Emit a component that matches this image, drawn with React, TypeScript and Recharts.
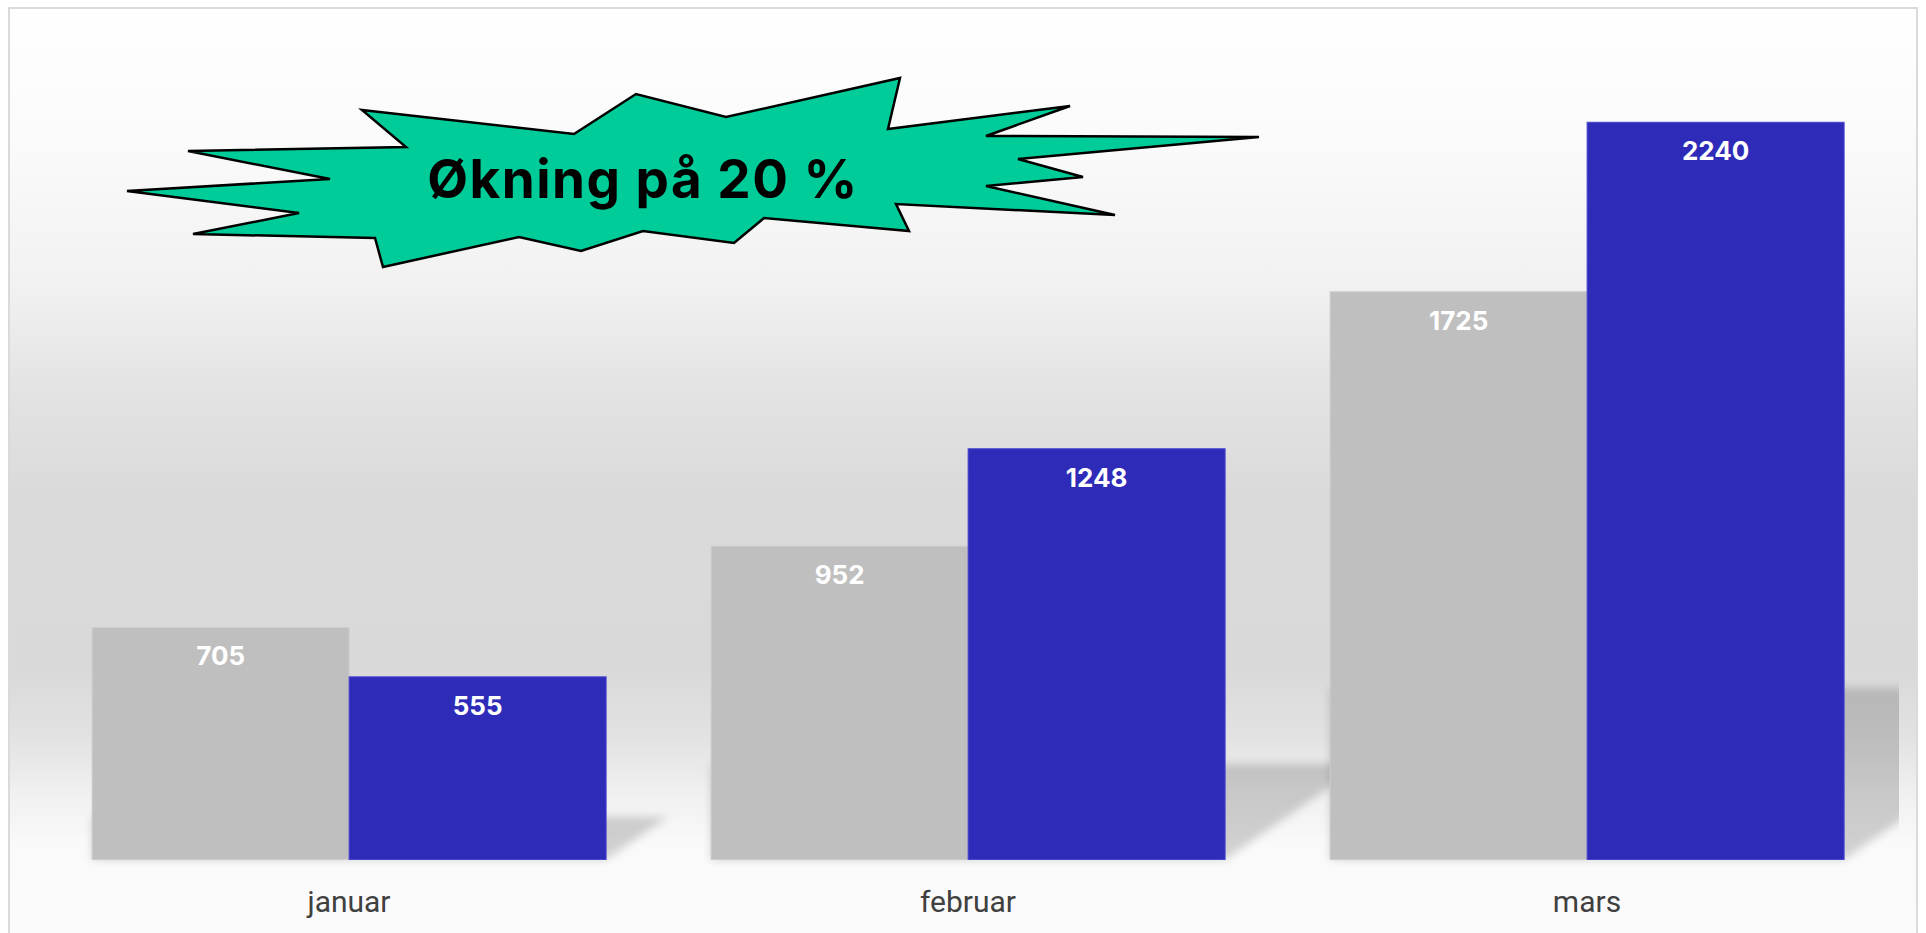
import { BarChart, Bar, XAxis, YAxis, LabelList } from 'recharts';

const months = ['januar', 'februar', 'mars'];
const prevValues = [705, 952, 1725];
const curValues = [555, 1248, 2240];

const data = months.map((month, i) => ({ month, prev: prevValues[i], cur: curValues[i] }));

// starburst annotation outline (page coords)
const burst = [
  [362, 110], [574, 134], [636, 94], [726, 117], [900, 78], [888, 129], [1070, 106], [986, 136],
  [1259, 137], [1018, 159], [1083, 177], [986, 186], [1115, 215], [896, 204], [909, 231], [764, 218],
  [734, 243], [643, 231], [581, 251], [519, 237], [383, 267], [375, 238], [193, 234], [299, 213],
  [127, 191], [330, 179], [188, 151], [406, 147],
];

const GRAY = '#bfbfbf';
const BLUE = '#2e2bb8';

// gray bar + the soft floor shadow of its group
const GrayShape = (props: any) => {
  const { x, y, width, height, payload } = props;
  const base = y + height;
  const sh = 0.233 * height * (payload.cur / payload.prev);
  const right = x + width * 2;
  const k = 1.45;
  const pts = `${x},${base - sh} ${right + k * sh},${base - sh} ${right},${base} ${x},${base}`;
  return (
    <g>
      <defs>
        <clipPath id="plotClip">
          <rect x={0} y={0} width={1899} height={933} />
        </clipPath>
        <filter id="soft" x="-20%" y="-20%" width="140%" height="140%">
          <feGaussianBlur stdDeviation="4" />
        </filter>
      </defs>
      <g clipPath="url(#plotClip)">
        <polygon points={pts} fill="rgba(0,0,0,0.17)" filter="url(#soft)" />
      </g>
      <rect x={x} y={y} width={width} height={height} fill={GRAY} stroke="#cdcdcd" strokeWidth={1} />
    </g>
  );
};

const BlueShape = (props: any) => {
  const { x, y, width, height } = props;
  return <rect x={x} y={y} width={width} height={height} fill={BLUE} stroke="#4845cf" strokeWidth={1} />;
};

const renderLabel = (props: any) => {
  const { x, y, width, value } = props;
  return (
    <text
      x={x + width / 2}
      y={y + 38}
      textAnchor="middle"
      fill="#ffffff"
      fontFamily="Inter, 'Noto Sans', sans-serif"
      fontWeight={700}
      fontSize={26}
    >
      {value}
    </text>
  );
};

const MonthTick = (props: any) => {
  const { x, y, payload } = props;
  return (
    <text x={x} y={y + 44} textAnchor="middle" fill="#404040" fontFamily="Roboto, sans-serif" fontSize={30}>
      {payload.value}
    </text>
  );
};

export default function App() {
  return (
    <div style={{ position: 'absolute', left: 0, top: 0, width: 1926, height: 933, overflow: 'hidden' }}>
      <div
        style={{
          position: 'absolute',
          left: 8,
          top: 7,
          width: 1910,
          height: 960,
          boxSizing: 'border-box',
          border: '2px solid #dadada',
          background:
            'linear-gradient(to bottom, #ffffff 0%, #fafafa 15%, #f1f1f1 29%, #e3e3e3 40%, #dadada 51%, #d9d9d9 69%, #e2e2e2 76%, #f0f0f0 82%, #f8f8f8 86.5%, #fafafa 87.5%, #fbfbfb 100%)',
        }}
      />
      <div style={{ position: 'absolute', left: 0, top: 0 }}>
        <BarChart
          width={1926}
          height={933}
          data={data}
          margin={{ top: 36.7, right: 29.5, bottom: 13.5, left: 39.5 }}
          barCategoryGap="8.5%"
          barGap={0}
        >
          <XAxis dataKey="month" axisLine={false} tickLine={false} height={60} tick={<MonthTick />} interval={0} />
          <YAxis hide domain={[0, 2500]} />
          <Bar dataKey="prev" fill={GRAY} shape={<GrayShape />} isAnimationActive={false}>
            <LabelList dataKey="prev" content={renderLabel} />
          </Bar>
          <Bar dataKey="cur" fill={BLUE} shape={<BlueShape />} isAnimationActive={false}>
            <LabelList dataKey="cur" content={renderLabel} />
          </Bar>
        </BarChart>
      </div>
      <svg width={1926} height={933} style={{ position: 'absolute', left: 0, top: 0, pointerEvents: 'none' }}>
        <polygon
          points={burst.map((p) => p.join(',')).join(' ')}
          fill="#00cc99"
          stroke="#000000"
          strokeWidth={2.5}
          strokeLinejoin="miter"
        />
        <text
          x={643}
          y={198}
          textAnchor="middle"
          fill="#000000"
          fontFamily="Inter, 'Noto Sans', sans-serif"
          fontWeight={700}
          fontSize={53}
          letterSpacing={1.5}
        >
          Økning på 20 %
        </text>
      </svg>
    </div>
  );
}
